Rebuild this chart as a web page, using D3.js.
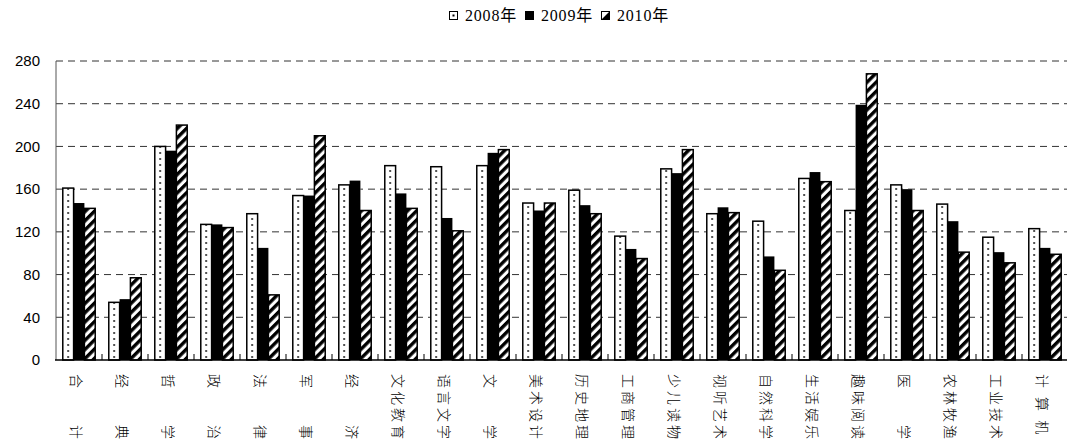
<!DOCTYPE html>
<html>
<head>
<meta charset="utf-8">
<script src="https://cdn.jsdelivr.net/npm/d3@7"></script>
<style>
body{margin:0;background:#fff;}
svg{display:block;}
</style>
</head>
<body>
<script>
let cats=['合\u3000\u3000计','经\u3000\u3000典','哲\u3000\u3000学','政\u3000\u3000治','法\u3000\u3000律','军\u3000\u3000事','经\u3000\u3000济','文化教育','语言文字','文\u3000\u3000学','美术设计','历史地理','工商管理','少儿读物','视听艺术','自然科学','生活娱乐','趣味阅读','医\u3000\u3000学','农林牧渔','工业技术','计 算 机'];
let series=['2008年','2009年','2010年'];
let v2008=[161,54,200,127,137,154,164,182,181,182,147,159,116,179,137,130,170,140,164,146,115,123];
let v2009=[147,57,196,127,105,154,168,156,133,194,140,145,104,175,143,97,176,239,160,130,101,105];
let v2010=[142,77,220,124,61,210,140,142,121,197,147,137,95,197,138,84,167,268,140,101,91,99];
let yTicks=[0,40,80,120,160,200,240,280];

let W=1067,H=446;
let svg=d3.select("body").append("svg").attr("width",W).attr("height",H);
let defs=svg.append("defs");

let x=d3.scaleBand().domain(cats).range([56,1068]).paddingInner(0.295).paddingOuter(0.1475);
let xs=d3.scaleBand().domain(series).range([0,x.bandwidth()]);
let y=d3.scaleLinear().domain([0,280]).range([360,61]);
let step=x.step();

// dotted pattern, one column of dots in the middle of each 2008 bar
let dots=defs.append("pattern").attr("id","dots").attr("patternUnits","userSpaceOnUse")
  .attr("x",x(cats[0])+xs.bandwidth()/2-3).attr("y",0).attr("width",step).attr("height",6);
dots.append("circle").attr("cx",3).attr("cy",3).attr("r",0.9).attr("fill","#000");

let hatch=defs.append("pattern").attr("id","hatch").attr("patternUnits","userSpaceOnUse")
  .attr("width",6.5).attr("height",6.5).attr("patternTransform","rotate(45)");
hatch.append("rect").attr("width",6.5).attr("height",6.5).attr("fill","#fff");
hatch.append("rect").attr("width",3.4).attr("height",6.5).attr("fill","#000");

let fills={'2008年':"url(#dots)",'2009年':"#000",'2010年':"url(#hatch)"};

// grid
svg.append("g").selectAll("line").data(yTicks.filter(d=>d>0)).enter().append("line")
  .attr("x1",56).attr("x2",1067).attr("y1",d=>y(d)).attr("y2",d=>y(d))
  .attr("stroke","#333").attr("stroke-width",1).attr("stroke-dasharray","7,5");

// y axis
svg.append("line").attr("x1",56).attr("x2",56).attr("y1",y(280)).attr("y2",y(0)).attr("stroke","#555").attr("stroke-width",1);
svg.append("g").selectAll("text").data(yTicks).enter().append("text")
  .text(d=>d).attr("x",40).attr("y",d=>y(d)).attr("dy","0.35em").style("text-anchor","end")
  .style("font","15px 'Liberation Sans', Arial, sans-serif").style("fill","#000");

// bars
let rows=cats.map((c,i)=>[[c,'2008年',v2008[i]],[c,'2009年',v2009[i]],[c,'2010年',v2010[i]]]);
let grp=svg.append("g").selectAll("g").data(rows).enter().append("g");
grp.selectAll("rect.w").data(d=>d).enter().append("rect")
  .attr("x",d=>x(d[0])+xs(d[1])).attr("y",d=>y(d[2]))
  .attr("width",xs.bandwidth()).attr("height",d=>y(0)-y(d[2]))
  .attr("fill","#fff");
grp.selectAll("rect.b").data(d=>d).enter().append("rect")
  .attr("x",d=>x(d[0])+xs(d[1])).attr("y",d=>y(d[2]))
  .attr("width",xs.bandwidth()).attr("height",d=>y(0)-y(d[2]))
  .attr("fill",d=>fills[d[1]]).attr("stroke","#000").attr("stroke-width",d=>d[1]=='2009年'?0:1.5);

// x axis
svg.append("line").attr("x1",55).attr("x2",1067).attr("y1",y(0)).attr("y2",y(0)).attr("stroke","#000").attr("stroke-width",1.5);
svg.append("g").selectAll("line").data(cats.slice(1)).enter().append("line")
  .attr("x1",d=>x(d)-x.step()*x.paddingInner()/2).attr("x2",d=>x(d)-x.step()*x.paddingInner()/2)
  .attr("y1",y(0)).attr("y2",y(0)-6).attr("stroke","#000").attr("stroke-width",1);
svg.append("g").selectAll("text").data(cats).enter().append("text")
  .text(d=>d)
  .attr("transform",d=>`translate(${x(d)+x.bandwidth()/2-8},374) rotate(90)`)
  .style("text-anchor","start").style("letter-spacing","3px")
  .style("font","300 14px 'Noto Sans CJK SC', sans-serif").style("fill","#000");

// legend
let leg=svg.append("g");
let lx=449;
series.forEach(s=>{
  leg.append("rect").attr("x",lx+0.5).attr("y",11.5).attr("width",8).attr("height",8)
    .attr("fill",s=='2010年'?"#fff":fills[s]).attr("stroke","#000").attr("stroke-width",1);
  if(s=='2008年') leg.append("rect").attr("x",lx+3.5).attr("y",14.5).attr("width",2).attr("height",2).attr("fill","#000");
  if(s=='2010年') leg.append("path").attr("d",`M${lx+0.5},${19.5}L${lx+8.5},${11.5}L${lx+8.5},${19.5}Z`).attr("fill","#000");
  let t=leg.append("text").text(s).attr("x",lx+16).attr("y",21).style("letter-spacing","0.8px")
    .style("font-family","'Liberation Serif', 'Noto Sans CJK SC', serif").style("font-size","16px").style("fill","#000");
  lx+=16+t.node().getComputedTextLength()+8;
});
</script>
</body>
</html>
